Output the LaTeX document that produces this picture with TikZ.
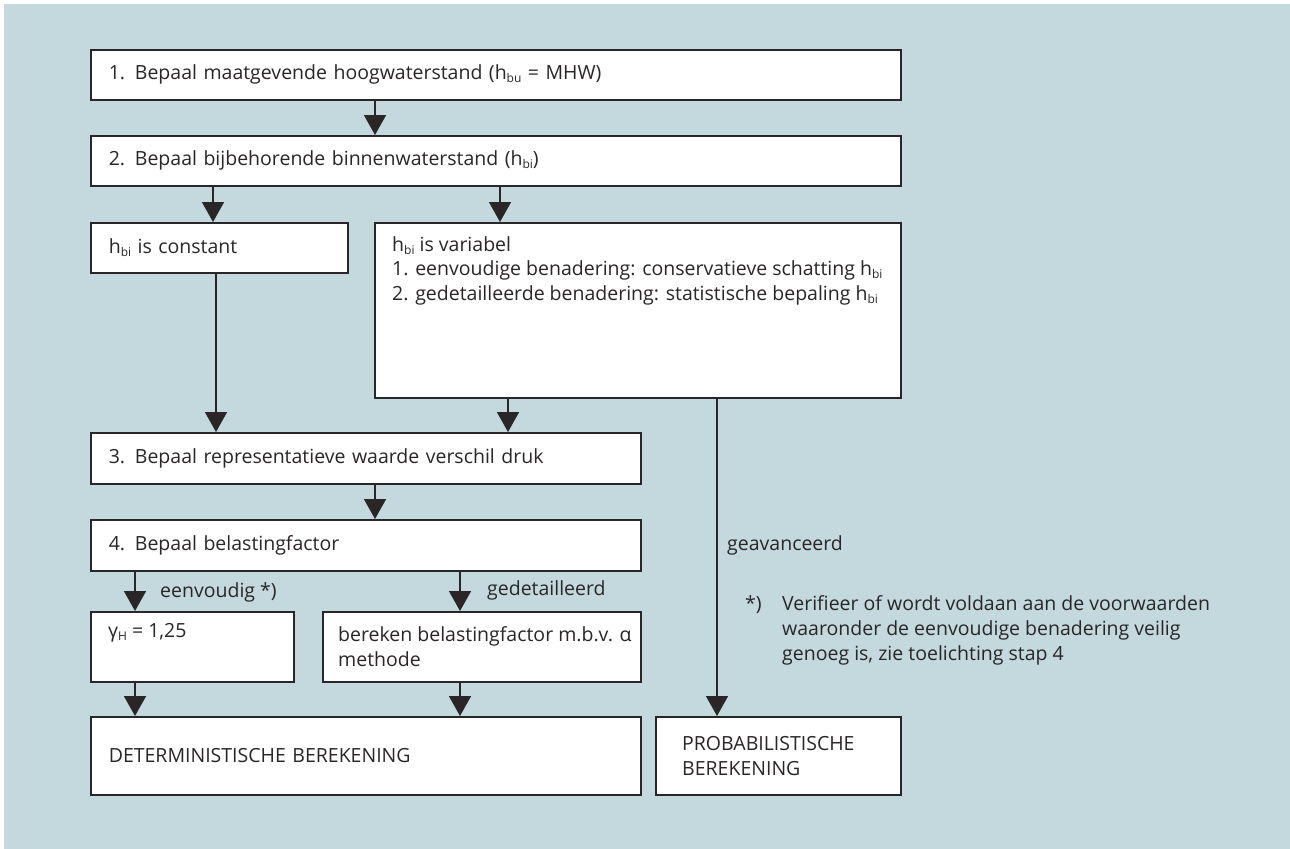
\documentclass[tikz,border=0pt]{standalone}
\usepackage{fontspec}
\setmainfont{Open Sans}
\usetikzlibrary{arrows.meta}
\definecolor{panel}{HTML}{C3D9DE}
\definecolor{ink}{HTML}{2A2627}
\newcommand\lowidx[1]{\raisebox{-0.3ex}{\fontsize{12bp}{12bp}\selectfont #1}}
\begin{document}
\begin{tikzpicture}[x=1bp,y=-1bp,
  every node/.style={font=\fontsize{19.5bp}{24.5bp}\selectfont, text=ink},
  box/.style={draw=ink, line width=1.6bp, fill=white, anchor=north west,
    inner xsep=18bp, inner ysep=0bp, align=left},
  txt/.style={inner sep=0bp, align=left},
  arr/.style={draw=ink, line width=1.6bp, -{Triangle[width=22bp,length=20bp]}},
  lbl/.style={inner sep=0bp, anchor=west}]
  \useasboundingbox (0,0) rectangle (1290,849);
  \fill[panel] (4,4) rectangle (1290,849);

  % boxes
  \node[box, minimum width=810bp, minimum height=50bp, text width=774bp] (b1) at (90,49)
    {1. Bepaal maatgevende hoogwaterstand (h\lowidx{bu} = MHW)};
  \node[box, minimum width=810bp, minimum height=50bp, text width=774bp] (b2) at (90,135)
    {2. Bepaal bijbehorende binnenwaterstand (h\lowidx{bi})};
  \node[box, minimum width=257bp, minimum height=50bp, text width=221bp] (b3) at (90,222)
    {h\lowidx{bi} is constant};
  \node[box, minimum width=526bp, minimum height=175bp] (b4) at (374,222) {};
  \node[txt, anchor=north west] (t4) at ([xshift=18bp,yshift=-14bp]b4.north west)
    {h\lowidx{bi} is variabel\\
     1. eenvoudige benadering: conservatieve schatting h\lowidx{bi}\\
     2. gedetailleerde benadering: statistische bepaling h\lowidx{bi}};
  \node[box, minimum width=550bp, minimum height=51bp, text width=514bp] (b5) at (90,432)
    {3. Bepaal representatieve waarde verschil druk};
  \node[box, minimum width=550bp, minimum height=51bp, text width=514bp] (b6) at (90,519)
    {4. Bepaal belastingfactor};
  \node[box, minimum width=203bp, minimum height=70bp] (b7) at (90,611) {};
  \node[txt, anchor=north west] (t7) at ([xshift=18bp,yshift=-12bp]b7.north west)
    {γ\lowidx{H} = 1,25};
  \node[box, minimum width=318bp, minimum height=70bp] (b8) at (322,611) {};
  \node[txt, anchor=west] (t8) at ([xshift=16bp]b8.west)
    {bereken belastingfactor m.b.v. α\\methode};
  \node[box, minimum width=550bp, minimum height=78bp, text width=514bp] (b9) at (90,716)
    {DETERMINISTISCHE BEREKENING};
  \node[box, minimum width=245bp, minimum height=78bp] (b10) at (655,716) {};
  \node[txt, anchor=west] (t10) at ([xshift=27bp]b10.west)
    {PROBABILISTISCHE\\BEREKENING};

  % connectors
  \draw[arr] ([xshift=285bp]b1.south west) -- ([xshift=285bp]b2.north west);
  \draw[arr] ([xshift=123bp]b2.south west) -- ([xshift=123bp]b3.north west);
  \draw[arr] ([xshift=410bp]b2.south west) -- ([xshift=126bp]b4.north west);
  \draw[arr] ([xshift=126bp]b3.south west) -- ([xshift=126bp]b5.north west);
  \draw[arr] ([xshift=134bp]b4.south west) -- ([xshift=418bp]b5.north west);
  \draw[arr] ([xshift=285bp]b5.south west) -- ([xshift=285bp]b6.north west);
  \draw[arr] ([xshift=45bp]b6.south west) -- ([xshift=45bp]b7.north west);
  \draw[arr] ([xshift=370bp]b6.south west) -- ([xshift=138bp]b8.north west);
  \draw[arr] ([xshift=45bp]b7.south west) -- ([xshift=45bp]b9.north west);
  \draw[arr] ([xshift=138bp]b8.south west) -- ([xshift=370bp]b9.north west);
  \draw[arr] ([xshift=343bp]b4.south west) -- ([xshift=62bp]b10.north west);

  % connector labels
  \node[lbl] (l1) at (160,592) {eenvoudig *)};
  \node[lbl] (l2) at (487,590) {gedetailleerd};
  \node[lbl] (l3) at (727,545) {geavanceerd};

  % footnote
  \node[txt, anchor=north west] (fn1) at (745,595) {*)};
  \node[txt, anchor=north west, font=\fontsize{19.5bp}{25bp}\selectfont] (fn2) at (782,595)
    {Verifieer of wordt voldaan aan de voorwaarden\\
     waaronder de eenvoudige benadering veilig\\
     genoeg is, zie toelichting stap 4};
\end{tikzpicture}
\end{document}
